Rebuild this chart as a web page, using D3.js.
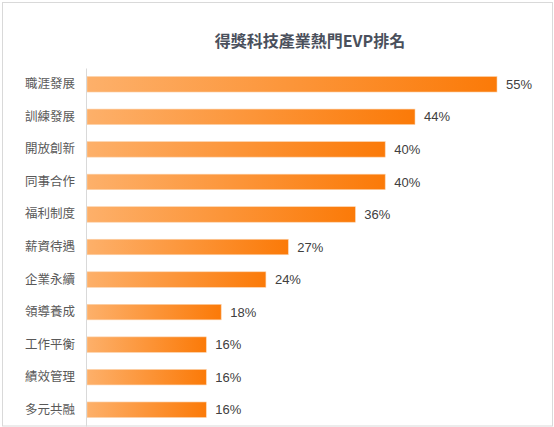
<!DOCTYPE html>
<html>
<head>
<meta charset="utf-8">
<script src="https://cdn.jsdelivr.net/npm/d3@7"></script>
<style>
  body { margin: 0; background: #fff; }
  svg { display: block; }
  .y.axis text { font-family: "Noto Sans CJK TC", sans-serif; font-size: 12.5px; fill: #595959; }
  .y.axis path { stroke: #d9d9d9; }
</style>
</head>
<body>
<div id="chart"></div>
<script>
var categories = ["職涯發展", "訓練發展", "開放創新", "同事合作", "福利制度", "薪資待遇",
  "企業永續", "領導養成", "工作平衡", "績效管理", "多元共融"];
var values = [55, 44, 40, 40, 36, 27, 24, 18, 16, 16, 16];
var title = "得獎科技產業熱門EVP排名";

var width = 554;
var height = 427;
var marginLeft = 86;
var marginTop = 68;
var plotBottom = 426;

var svg = d3.select("#chart").append("svg")
  .attr("width", width)
  .attr("height", height);

/* frame */
svg.append("rect")
  .attr("x", 2.5).attr("y", 2.5)
  .attr("width", 550).attr("height", 423.5)
  .attr("fill", "#fff")
  .attr("stroke", "#d9d9d9")
  .attr("stroke-width", 1);

/* gradient */
var grad = svg.append("defs").append("linearGradient")
  .attr("id", "barGrad")
  .attr("x1", "0%").attr("x2", "100%")
  .attr("y1", "0%").attr("y2", "0%");
grad.append("stop").attr("offset", "0%").attr("stop-color", "#fdb06a");
grad.append("stop").attr("offset", "100%").attr("stop-color", "#fb7a08");

/* scales */
var xScale = d3.scaleLinear()
  .domain([0, 55])
  .range([marginLeft + 1, 497]);

var yScale = d3.scaleBand()
  .domain(categories)
  .range([marginTop, plotBottom])
  .padding(0);

var barH = 15.5;

/* title */
svg.append("text")
  .attr("x", 310)
  .attr("y", 47)
  .attr("text-anchor", "middle")
  .attr("font-family", "\"Noto Sans CJK TC\", sans-serif")
  .attr("font-size", "16px")
  .attr("font-weight", "bold")
  .attr("fill", "#4a505c")
  .text(title);

/* bars */
var rows = svg.append("g").attr("class", "bars")
  .selectAll("g")
  .data(categories).enter()
  .append("g");

rows.append("rect")
  .attr("x", xScale(0))
  .attr("y", d => yScale(d) + yScale.bandwidth() / 2 - barH / 2)
  .attr("width", (d, i) => xScale(values[i]) - xScale(0))
  .attr("height", barH)
  .attr("fill", "url(#barGrad)")
  .attr("stroke", "#fcd2ab")
  .attr("stroke-width", 0.6);

rows.append("text")
  .attr("x", (d, i) => xScale(values[i]) + 9)
  .attr("y", d => yScale(d) + yScale.bandwidth() / 2)
  .attr("dy", "0.36em")
  .attr("font-family", "Arial, \"Liberation Sans\", sans-serif")
  .attr("font-size", "13px")
  .attr("fill", "#404040")
  .text((d, i) => values[i] + "%");

/* axis */
var yAxis = d3.axisLeft(yScale).tickSize(0).tickPadding(11);
svg.append("g")
  .attr("class", "y axis")
  .attr("transform", `translate(${marginLeft}, 0)`)
  .call(yAxis);
</script>
</body>
</html>
